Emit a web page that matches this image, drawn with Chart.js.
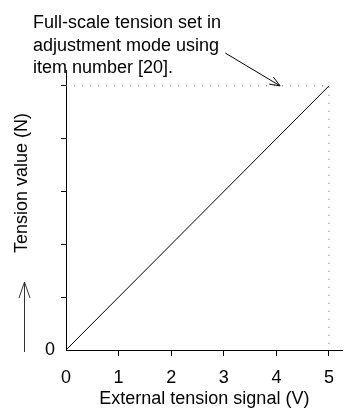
<!DOCTYPE html>
<html><head><meta charset="utf-8">
<script src="https://cdn.jsdelivr.net/npm/chart.js@4/dist/chart.umd.min.js"></script>
<style>html,body{margin:0;padding:0;background:#fff}#c{display:block}</style>
</head><body>
<canvas id="c" width="345" height="410"></canvas>
<script>
// ---- data ----
const signalV = [0, 5];
const tensionValue = [0, 5];
const xTickValues = [0, 1, 2, 3, 4, 5];
const xTickLabels = ['0', '1', '2', '3', '4', '5'];
const yTickValues = [0, 1, 2, 3, 4, 5];
const yTickLabels = ['0', '', '', '', '', ''];
const guideX = [0, 5, 5];
const guideY = [5, 5, 0];
const noteLines = ['Full-scale tension set in', 'adjustment mode using', 'item number [20].'];
const noteArrowFrom = [3.03, 5.62];
const noteArrowTo = [4.07, 5];
const xTitle = 'External tension signal (V)';
const yTitle = 'Tension value (N)';

const FONT = "'Liberation Sans', Arial, sans-serif";

function arrow(ctx, x1, y1, x2, y2, head, ang) {
  const a = Math.atan2(y2 - y1, x2 - x1);
  ctx.beginPath();
  ctx.moveTo(x1, y1); ctx.lineTo(x2, y2);
  ctx.moveTo(x2 - head * Math.cos(a - ang), y2 - head * Math.sin(a - ang));
  ctx.lineTo(x2, y2);
  ctx.lineTo(x2 - head * Math.cos(a + ang), y2 - head * Math.sin(a + ang));
  ctx.stroke();
}

const decor = {
  id: 'decor',
  afterDraw(chart) {
    const ctx = chart.ctx, xs = chart.scales.x, ys = chart.scales.y;
    ctx.save();
    ctx.fillStyle = '#000'; ctx.strokeStyle = '#000'; ctx.lineWidth = 1;
    ctx.font = '18px ' + FONT;
    // note text
    ctx.textAlign = 'left'; ctx.textBaseline = 'alphabetic';
    noteLines.forEach((t, i) => ctx.fillText(t, 33, 28 + i * 22.5));
    // note arrow
    arrow(ctx, xs.getPixelForValue(noteArrowFrom[0]), ys.getPixelForValue(noteArrowFrom[1]),
      xs.getPixelForValue(noteArrowTo[0]), ys.getPixelForValue(noteArrowTo[1]), 11, 0.38);
    // y title
    ctx.save();
    ctx.translate(27, 183);
    ctx.rotate(-Math.PI / 2);
    ctx.textAlign = 'center'; ctx.textBaseline = 'alphabetic';
    ctx.fillText(yTitle, 0, 0);
    ctx.restore();
    // up arrow
    ctx.strokeStyle = '#333';
    arrow(ctx, 24.5, ys.getPixelForValue(0) + 2, 24.5, 282, 17, 0.33);
    ctx.restore();
  }
};

new Chart(document.getElementById('c'), {
  type: 'line',
  data: {
    datasets: [
      {
        data: signalV.map((v, i) => ({ x: v, y: tensionValue[i] })),
        borderColor: '#000', borderWidth: 1, pointRadius: 0, fill: false, tension: 0
      },
      {
        data: guideX.map((v, i) => ({ x: v, y: guideY[i] })),
        borderColor: '#666', borderWidth: 1, borderDash: [1, 7], pointRadius: 0, fill: false, tension: 0
      }
    ]
  },
  options: {
    responsive: false, animation: false,
    layout: { padding: { top: 70, right: 0, left: 0, bottom: 0 } },
    plugins: { legend: { display: false }, tooltip: { enabled: false } },
    scales: {
      x: {
        type: 'linear', min: 0, max: 5.26,
        afterBuildTicks: s => { s.ticks = xTickValues.map(v => ({ value: v })); },
        afterFit: s => { s.height = 60; },
        border: { display: true, color: '#000', width: 1 },
        grid: {
          drawOnChartArea: false, drawTicks: true, tickLength: 6,
          color: c => (c.tick && c.tick.value === 0) ? 'rgba(0,0,0,0)' : '#000'
        },
        ticks: {
          autoSkip: false, maxRotation: 0, color: '#000', padding: 11,
          font: { family: FONT, size: 18 },
          callback: (v, i) => xTickLabels[i]
        },
        title: {
          display: true, text: xTitle, color: '#000',
          font: { family: FONT, size: 18, lineHeight: 1.2 },
          padding: { top: 0, bottom: 0 }
        }
      },
      y: {
        type: 'linear', min: 0, max: 5.3,
        afterBuildTicks: s => { s.ticks = yTickValues.map(v => ({ value: v })); },
        afterFit: s => { s.width = 66; },
        border: { display: true, color: '#000', width: 1 },
        grid: {
          drawOnChartArea: false, drawTicks: true, tickLength: 5,
          color: c => (c.tick && c.tick.value === 0) ? 'rgba(0,0,0,0)' : '#000'
        },
        ticks: {
          autoSkip: false, color: '#000', padding: 6,
          font: { family: FONT, size: 18 },
          callback: (v, i) => yTickLabels[i]
        }
      }
    }
  },
  plugins: [decor]
});
</script>
</body></html>
